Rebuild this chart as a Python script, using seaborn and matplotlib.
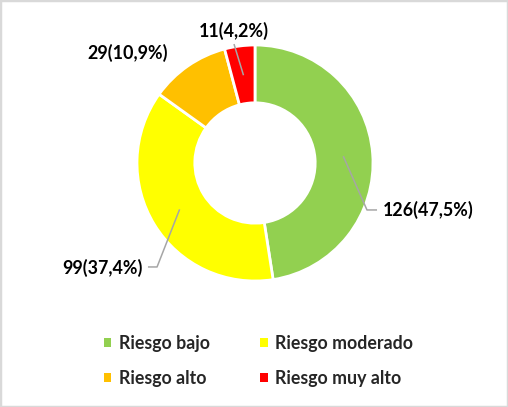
import numpy as np
import matplotlib
matplotlib.use("Agg")
import matplotlib.pyplot as plt
from matplotlib.patches import Patch, Rectangle
import seaborn as sns

# dados do gráfico
categorias = ['Riesgo bajo', 'Riesgo moderado', 'Riesgo alto', 'Riesgo muy alto']
valores = [126, 99, 29, 11]
porcentagens = ['47,5', '37,4', '10,9', '4,2']
cores = ['#92D050', '#FFFF00', '#FFC000', '#FF0000']

sns.set_theme(style="white")
plt.rcParams['font.family'] = ['Lato', 'DejaVu Sans']

fig = plt.figure(figsize=(5.08, 4.07), dpi=100)
fig.patch.set_facecolor('white')

# eixo do donut: centro (255,163) px, raio 118 px
W, H = 508, 407
cx, cy, r = 255, 163, 118
ax = fig.add_axes([(cx - r) / W, 1 - (cy + r) / H, 2 * r / W, 2 * r / H])

wedges, _ = ax.pie(valores, colors=cores, startangle=90, counterclock=False,
                   radius=1, wedgeprops=dict(width=0.49, edgecolor='white', linewidth=2))
ax.set_xlim(-1, 1)
ax.set_ylim(-1, 1)
ax.set_aspect('equal')
ax.axis('off')

# posições dos rótulos (texto, pontos da linha guia) em unidades do raio
rotulos_pos = [
    dict(xy=(1.085, -0.40), ha='left', linha=[(0.949, -0.398), (1.034, -0.398)]),
    dict(xy=(-0.955, -0.89), ha='right', linha=[(-0.83, -0.881), (-0.907, -0.881)]),
    dict(xy=(-1.076, 0.932), ha='center', linha=None),
    dict(xy=(-0.178, 1.12), ha='center', linha=[(-0.178, 1.008)]),
]

for w, v, p, pos in zip(wedges, valores, porcentagens, rotulos_pos):
    ang = np.deg2rad((w.theta1 + w.theta2) / 2)
    inicio = (0.75 * np.cos(ang), 0.75 * np.sin(ang))
    if pos['linha']:
        pts = [inicio] + pos['linha']
        ax.plot([q[0] for q in pts], [q[1] for q in pts], color='#A6A6A6',
                lw=1.1, clip_on=False, solid_capstyle='butt')
    ax.text(pos['xy'][0], pos['xy'][1], f'{v}({p}%)', ha=pos['ha'], va='center',
            fontsize=12.9, fontweight='bold', color='black', clip_on=False)

# legenda (ordem por linhas: matplotlib preenche por colunas)
ordem = [0, 2, 1, 3]
handles = [Patch(facecolor=cores[i], edgecolor='none') for i in ordem]
fig.legend(handles, [categorias[i] for i in ordem], ncol=2, loc='center left',
           frameon=False, bbox_to_anchor=(104 / W, 1 - 361 / H),
           prop=dict(weight='bold', size=12.8),
           handlelength=0.42, handleheight=0.42, handletextpad=0.4,
           columnspacing=2.85, labelspacing=1.0, borderpad=0, borderaxespad=0)

# borda do gráfico
fig.patches.append(Rectangle((0, 0), 1, 1, transform=fig.transFigure, fill=False,
                             edgecolor='#D9D9D9', linewidth=2.5))

fig.savefig('out.png', dpi=100)
